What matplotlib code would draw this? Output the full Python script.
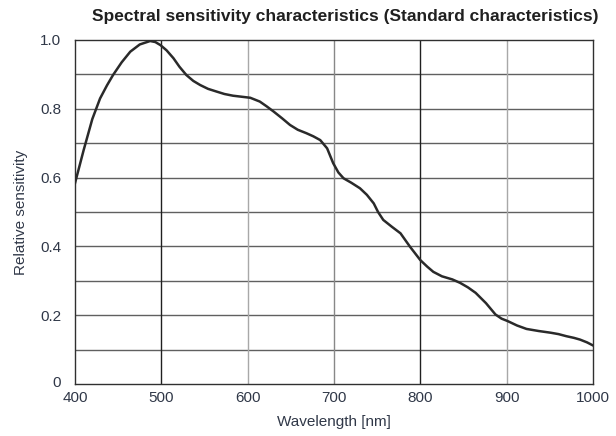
import matplotlib.pyplot as plt
from matplotlib.transforms import ScaledTranslation

# 读取自图像的光谱灵敏度数据
wavelength = [400, 410, 420, 429, 437, 444, 454, 464, 475, 487, 493, 499, 506, 514, 521, 529,
              537, 545, 554, 564, 573, 583, 593, 603, 614, 622, 630, 640, 649, 658, 668, 676,
              684, 692, 699, 705, 711, 720, 730, 738, 746, 751, 757, 767, 777, 788, 800, 808,
              815, 825, 837, 846, 855, 864, 876, 887, 894, 901, 912, 923, 937, 951, 960, 969,
              978, 985, 993, 1000]
sensitivity = [0.584, 0.68, 0.77, 0.83, 0.868, 0.898, 0.935, 0.966, 0.987, 0.997, 0.994, 0.985, 0.97, 0.947, 0.922, 0.898,
               0.881, 0.869, 0.858, 0.85, 0.843, 0.838, 0.835, 0.832, 0.821, 0.807, 0.792, 0.772, 0.753, 0.739, 0.729, 0.72,
               0.709, 0.685, 0.642, 0.615, 0.598, 0.585, 0.569, 0.55, 0.525, 0.5, 0.477, 0.457, 0.438, 0.399, 0.36, 0.341,
               0.326, 0.313, 0.304, 0.294, 0.281, 0.265, 0.235, 0.202, 0.19, 0.183, 0.17, 0.16, 0.154, 0.149, 0.145, 0.139,
               0.134, 0.129, 0.121, 0.112]

x_ticks = [400, 500, 600, 700, 800, 900, 1000]
y_ticks = [0, 0.2, 0.4, 0.6, 0.8, 1.0]
y_labels = ['0', '0.2', '0.4', '0.6', '0.8', '1.0']

plt.rcParams['font.family'] = ['Liberation Sans', 'DejaVu Sans']

fig = plt.figure(figsize=(6.16, 4.36), dpi=100)
ax = fig.add_axes([0.1218, 0.1193, 0.8409, 0.789])

# 网格线
for v in [0.1, 0.2, 0.3, 0.4, 0.5, 0.6, 0.7, 0.8, 0.9]:
    ax.axhline(v, color='#606060', lw=1.0, zorder=1)
for w in [500, 600, 700, 800, 900]:
    if w in (500, 800):
        c = '#202020'
    elif w == 700:
        c = '#888888'
    else:
        c = '#a8a8a8'
    ax.axvline(w, color=c, lw=1.0, zorder=1)

ax.plot(wavelength, sensitivity, color='#2a2a2a', lw=1.8, zorder=3)

ax.set_xlim(400, 1000)
ax.set_ylim(0, 1.0)
ax.set_xticks(x_ticks)
ax.set_yticks(y_ticks)
ax.set_yticklabels(y_labels)
ax.tick_params(length=0, labelsize=11, labelcolor='#303848')
ax.tick_params(axis='y', pad=10)
ax.tick_params(axis='x', pad=5)
# "0" 稍微上移，避免与 "400" 重叠
ax.get_yticklabels()[0].set_transform(
    ax.get_yticklabels()[0].get_transform() + ScaledTranslation(0, 2 / 72, fig.dpi_scale_trans))
for s in ax.spines.values():
    s.set_color('#303030')
    s.set_linewidth(1.0)

ax.set_xlabel('Wavelength [nm]', fontsize=11, color='#303848', labelpad=7)
ax.set_ylabel('Relative sensitivity', fontsize=11, color='#303848', labelpad=9)
fig.text(0.56, 0.962, 'Spectral sensitivity characteristics (Standard characteristics)',
         ha='center', va='center', fontsize=12.5, fontweight='bold', color='#202020')

fig.savefig('out.png', dpi=100)
